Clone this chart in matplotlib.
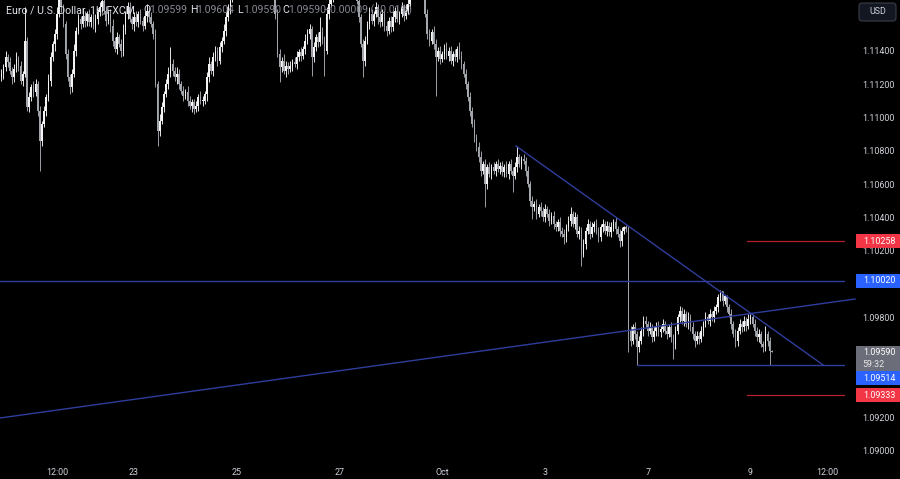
import matplotlib
matplotlib.use("Agg")
import matplotlib.pyplot as plt
import numpy as np
from matplotlib.patches import Rectangle, FancyBboxPatch
from matplotlib.transforms import IdentityTransform

plt.rcParams['font.family'] = ['Roboto', 'DejaVu Sans']

# ---------------- data (prices in pips above BASE) ----------------
BASE = 1.09
PIP = 0.0001
first_open_pips = 224
closes_pips = [
    226, 230, 236, 233, 228, 224, 229, 235, 231, 222,
    226, 246, 206, 212, 218, 215, 220, 204, 186, 196,
    204, 212, 222, 236, 244, 250, 262, 272, 266, 256,
    238, 224, 218, 226, 240, 252, 259, 256, 261, 258,
    262, 257, 260, 255, 259, 263, 266, 270, 264, 258,
    262, 255, 246, 241, 248, 244, 240, 252, 262, 266,
    259, 256, 260, 257, 262, 258, 255, 261, 264, 260,
    256, 250, 220, 192, 198, 206, 214, 220, 226, 232,
    228, 224, 226, 220, 216, 213, 215, 210, 207, 209,
    205, 207, 212, 210, 210, 214, 224, 232, 228, 236,
    240, 234, 242, 246, 252, 260, 266, 272, 276, 280,
    284, 287, 283, 286, 290, 288, 292, 289, 285, 288,
    291, 287, 284, 286, 282, 285, 280, 282, 262, 238,
    230, 234, 228, 231, 229, 231, 233, 232, 236, 239,
    237, 241, 246, 250, 253, 236, 242, 248, 245, 251,
    247, 240, 262, 268, 272, 276, 280, 282, 285, 281,
    286, 289, 284, 280, 283, 277, 270, 260, 244, 234,
    246, 256, 262, 258, 262, 266, 260, 257, 262, 255,
    252, 258, 254, 260, 264, 259, 262, 266, 261, 264,
    268, 274, 279, 283, 281, 285, 280, 276, 262, 250,
    246, 251, 244, 236, 240, 235, 238, 241, 237, 240,
    234, 238, 236, 241, 237, 232, 226, 220, 212, 204,
    196, 188, 182, 176, 168, 172, 160, 170, 166, 170,
    168, 172, 169, 171, 167, 170, 166, 172, 168, 165,
    170, 176, 172, 175, 174, 168, 160, 150, 146, 148,
    142, 146, 144, 140, 145, 142, 138, 141, 136, 134,
    137, 132, 130, 128, 134, 138, 142, 136, 140, 130,
    132, 118, 124, 132, 136, 130, 134, 136, 132, 128,
    134, 136, 132, 135, 131, 134, 137, 133, 130, 126,
    132, 134, 133, 72, 66, 74, 70, 62, 66, 72,
    78, 76, 72, 74, 68, 72, 75, 71, 73, 76,
    72, 70, 74, 68, 64, 72, 80, 84, 78, 82,
    76, 80, 74, 70, 66, 69, 67, 72, 76, 80,
    78, 82, 80, 84, 86, 92, 96, 90, 93, 86,
    82, 76, 70, 66, 72, 76, 74, 78, 75, 79,
    80, 76, 72, 68, 70, 64, 62, 70, 66, 60,
    59,
]
upper_wick_pips = [
    3, 2, 4, 2, 3, 2, 3, 4, 2, 3,
    2, 20, 2, 3, 2, 4, 3, 2, 3, 2,
    3, 2, 4, 3, 2, 3, 4, 2, 3, 2,
    2, 3, 2, 3, 4, 2, 3, 2, 4, 3,
    2, 3, 2, 4, 3, 2, 3, 4, 2, 3,
    2, 3, 4, 2, 3, 2, 3, 4, 2, 3,
    3, 2, 3, 4, 2, 3, 2, 3, 4, 2,
    3, 2, 3, 2, 4, 3, 2, 3, 4, 10,
    3, 2, 4, 3, 2, 3, 2, 4, 3, 2,
    2, 3, 2, 4, 3, 2, 3, 4, 2, 3,
    3, 2, 3, 2, 4, 3, 2, 3, 2, 4,
    3, 2, 3, 4, 2, 3, 2, 3, 2, 4,
    3, 2, 3, 2, 4, 3, 2, 3, 2, 3,
    3, 2, 4, 3, 2, 3, 2, 3, 4, 2,
    3, 2, 4, 3, 3, 2, 3, 2, 3, 9,
    3, 2, 4, 3, 2, 3, 2, 3, 4, 2,
    3, 2, 3, 2, 4, 3, 2, 3, 2, 3,
    3, 2, 4, 3, 2, 3, 2, 4, 3, 2,
    3, 2, 3, 4, 2, 3, 2, 3, 2, 4,
    3, 2, 3, 2, 4, 3, 2, 3, 2, 3,
    3, 2, 4, 3, 2, 3, 2, 3, 4, 2,
    3, 2, 3, 2, 4, 3, 2, 3, 2, 3,
    2, 3, 2, 3, 4, 2, 3, 2, 3, 2,
    3, 2, 3, 2, 3, 2, 4, 2, 3, 2,
    3, 7, 2, 2, 3, 2, 3, 2, 3, 2,
    3, 2, 3, 2, 3, 2, 3, 2, 3, 2,
    2, 3, 2, 3, 2, 3, 4, 2, 3, 2,
    3, 2, 3, 2, 3, 2, 3, 2, 3, 2,
    2, 3, 2, 3, 2, 3, 2, 3, 2, 3,
    2, 1, 1.5, 2, 3, 2, 3, 2, 3, 2,
    3, 3, 2, 3, 2, 3, 2, 3, 2, 3,
    2, 3, 2, 3, 2, 3, 2, 3, 2, 3,
    2, 3, 2, 3, 2, 3, 2, 3, 2, 3,
    2, 3, 2, 3, 2, 2, 0.5, 0, 0.5, 0.5,
    2, 3, 2, 3, 2, 3, 2, 3, 2, 3,
    2, 2, 3, 2, 3, 2, 2, 5, 2, 2,
    0.4,
]
lower_wick_pips = [
    2, 3, 2, 3, 2, 4, 3, 2, 3, 2,
    3, 2, 2, 3, 2, 3, 2, 3, 18, 3,
    2, 3, 2, 3, 2, 4, 3, 2, 3, 2,
    3, 2, 4, 3, 2, 3, 2, 3, 2, 4,
    3, 2, 3, 2, 4, 3, 2, 3, 2, 3,
    2, 4, 3, 2, 3, 2, 4, 3, 2, 3,
    2, 3, 4, 2, 3, 2, 3, 2, 4, 3,
    2, 3, 2, 9, 3, 2, 3, 2, 3, 2,
    3, 2, 4, 3, 2, 3, 2, 3, 2, 4,
    3, 2, 3, 2, 3, 2, 4, 3, 2, 3,
    2, 3, 2, 3, 2, 3, 2, 4, 3, 2,
    3, 2, 3, 2, 4, 3, 2, 3, 2, 3,
    2, 3, 2, 3, 2, 3, 4, 2, 3, 2,
    9, 3, 2, 4, 3, 2, 3, 2, 3, 2,
    3, 2, 3, 2, 3, 11, 3, 2, 3, 2,
    3, 15, 2, 3, 2, 3, 2, 3, 2, 3,
    2, 3, 2, 3, 2, 3, 2, 3, 2, 10,
    3, 2, 3, 2, 3, 2, 4, 3, 2, 3,
    3, 2, 3, 2, 3, 2, 3, 2, 3, 2,
    2, 3, 2, 3, 2, 3, 2, 3, 2, 3,
    3, 2, 3, 23, 2, 3, 2, 3, 2, 3,
    2, 3, 2, 3, 2, 3, 2, 3, 2, 3,
    2, 3, 2, 3, 3, 2, 14, 3, 2, 3,
    2, 3, 2, 3, 2, 3, 2, 3, 2, 10,
    2, 3, 2, 3, 2, 3, 2, 3, 7, 2,
    3, 2, 3, 2, 3, 2, 3, 2, 3, 2,
    2, 3, 2, 4, 3, 2, 3, 2, 3, 2,
    3, 7, 2, 3, 2, 3, 2, 3, 2, 3,
    2, 3, 2, 3, 2, 3, 2, 3, 2, 4,
    3, 2, 2, 13, 3, 2, 3, 10.6, 3, 2,
    3, 2, 3, 2, 3, 2, 3, 2, 3, 2,
    2, 3, 2, 3, 9, 3, 2, 3, 2, 3,
    2, 3, 2, 3, 4, 2, 3, 2, 3, 2,
    2, 3, 2, 3, 2, 3, 2, 3, 2, 3,
    2, 3, 2, 4, 3, 2, 3, 2, 3, 2,
    3, 2, 3, 2, 3, 2, 3, 2, 3, 8.5,
    0,
]

x_tick_pos = [26, 62, 110, 158, 206, 254, 302, 350, 386]
x_tick_labels = ["12:00", "23", "25", "27", "Oct", "3", "7", "9", "12:00"]
y_tick_values = [1.090, 1.092, 1.094, 1.096, 1.098, 1.100, 1.102, 1.104,
                 1.106, 1.108, 1.110, 1.112, 1.114]
# axis labels that sit hidden behind the price tags in the reference
y_tick_hidden = [1.094, 1.096, 1.100]

resistance_level = 1.10020
red_levels = [1.10258, 1.09333]
support_level = 1.09514
last_price = 1.09590
countdown = "59:32"
down_trend_x = [240.5, 384.0]
down_trend_y = [1.10828, 1.09514]
up_trend_x = [-0.6, 398.9]
up_trend_y = [1.09196, 1.09910]
red_start_bar = 348.4
support_start_bar = 297

title_main = "Euro / U.S. Dollar, 1h, FXCM"
ohlc_letters = ["O", "H", "L", "C"]
ohlc_values = ["1.09599", "1.09604", "1.09590", "1.09590"]
change_text = "\u22120.00009 (\u22120.01%)"

# ---------------- derived ----------------
close = BASE + np.array(closes_pips, dtype=float) * PIP
open_ = np.concatenate([[BASE + first_open_pips * PIP], close[:-1]])
high = np.maximum(open_, close) + np.array(upper_wick_pips, dtype=float) * PIP
low = np.minimum(open_, close) - np.array(lower_wick_pips, dtype=float) * PIP
bars = np.arange(len(close))

W, H = 900, 479
fig = plt.figure(figsize=(W / 100, H / 100), dpi=100, facecolor='black')
ax_bottom_px = 458
ax_right_px = 845
ax = fig.add_axes([0, (H - ax_bottom_px) / H, ax_right_px / W, ax_bottom_px / H])
ax.set_facecolor('black')
ax.set_xlim(-0.62, 394.2)
ax.set_ylim(1.08956, 1.11704)
for s in ax.spines.values():
    s.set_visible(False)

up = close >= open_
body_col = np.where(up, '#f4f4f4', '#a3a6ad')
wick_col = np.where(up, '#e6e6e6', '#9a9da4')
ax.vlines(bars, low, high, colors=wick_col, linewidth=0.7, zorder=3)
body_h = np.maximum(np.abs(close - open_), 0.3 * PIP)
ax.bar(bars, body_h, bottom=np.minimum(open_, close), width=0.75,
       color=body_col, linewidth=0, zorder=3.1)

line_blue = '#2f3d9c'
line_red = '#b3202a'
ax.axhline(resistance_level, color=line_blue, lw=1.0, zorder=4)
ax.plot([support_start_bar, 394.2], [support_level, support_level], color=line_blue, lw=1.0, zorder=4)
ax.plot(down_trend_x, down_trend_y, color=line_blue, lw=1.0, zorder=4)
ax.plot(up_trend_x, up_trend_y, color=line_blue, lw=1.0, zorder=4, clip_on=False)
for lv in red_levels:
    ax.plot([red_start_bar, 394.2], [lv, lv], color=line_red, lw=0.9, zorder=4)

tick_color = '#d1d4dc'
ax.yaxis.tick_right()
ax.set_yticks(y_tick_values)
ax.set_yticklabels(["" if any(abs(v - h) < 1e-9 for h in y_tick_hidden) else f"{v:.5f}"
                    for v in y_tick_values])
ax.tick_params(axis='y', length=0, pad=12.5, labelsize=6.4, labelcolor=tick_color)
ax.set_xticks(x_tick_pos)
ax.set_xticklabels(x_tick_labels)
ax.tick_params(axis='x', length=0, pad=7, labelsize=6.4, labelcolor=tick_color)

# ---------------- price tags (pixel coords) ----------------
idt = IdentityTransform()
fig.canvas.draw()


def ypx(price):
    return ax.transData.transform((0, price))[1]


def tag(center_y, text, fc, h=14):
    fig.add_artist(Rectangle((856, center_y - h / 2), 46, h, transform=idt,
                             facecolor=fc, edgecolor='none', zorder=10))
    fig.text(879, center_y, text, transform=idt, ha='center', va='center',
             color='white', fontsize=6.4, zorder=11)


tag(ypx(red_levels[0]), f"{red_levels[0]:.5f}", '#f23645')
tag(ypx(resistance_level), f"{resistance_level:.5f}", '#2962ff')
# last price box (two lines)
lp = ypx(last_price)
fig.add_artist(Rectangle((856, lp - 19), 46, 25, transform=idt,
                         facecolor='#6b6e78', edgecolor='none', zorder=10))
fig.text(879, lp, f"{last_price:.5f}", transform=idt, ha='center', va='center',
         color='white', fontsize=6.4, zorder=11)
fig.text(862, lp - 12, countdown, transform=idt, ha='left', va='center',
         color='#e6e6e6', fontsize=6.4, zorder=11)
tag(lp - 26, f"{support_level:.5f}", '#2962ff')
tag(ypx(red_levels[1]), f"{red_levels[1]:.5f}", '#f23645')

# USD button
fig.add_artist(FancyBboxPatch((859, H - 21), 37, 18, boxstyle='round,pad=0,rounding_size=3',
                              transform=idt, facecolor='#131722', edgecolor='#3a3e4a',
                              linewidth=0.8, zorder=10))
fig.text(877.5, H - 12, "USD", transform=idt, ha='center', va='center',
         color=tick_color, fontsize=6.4, zorder=11)

# legend / title
ty = H - 10
fs_title = 7.6
fig.text(6, ty, title_main, transform=idt, ha='left', va='center', color='#e0e3eb',
         fontsize=fs_title, zorder=2)
letter_x = [143, 190, 237, 282]
for lx, letter, val in zip(letter_x, ohlc_letters, ohlc_values):
    fig.text(lx, ty, letter, transform=idt, ha='left', va='center', color='#e0e3eb',
             fontsize=fs_title, zorder=2)
    fig.text(lx + 6, ty, val, transform=idt, ha='left', va='center', color='#868993',
             fontsize=fs_title, zorder=2)
fig.text(324, ty, change_text, transform=idt, ha='left', va='center', color='#868993',
         fontsize=fs_title, zorder=2)

fig.savefig("out.png", dpi=100, facecolor='black')
